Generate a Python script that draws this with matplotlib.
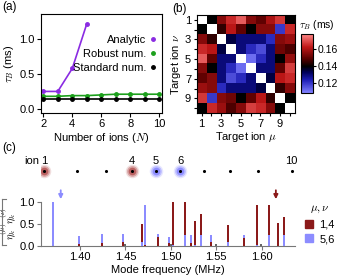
import numpy as np
import matplotlib
matplotlib.use("Agg")
import matplotlib.pyplot as plt
from matplotlib.colors import LinearSegmentedColormap
from matplotlib.patches import Patch
from matplotlib.lines import Line2D

plt.rcParams['font.family'] = ['Liberation Sans', 'DejaVu Sans']
plt.rcParams['mathtext.fontset'] = 'cm'
plt.rcParams['font.size'] = 8
plt.rcParams['axes.linewidth'] = 0.8

# ---- panel (a) data
n_ions = [2, 3, 4, 5, 6, 7, 8, 9, 10]
analytic_n = [2, 3, 4, 5]
analytic = [0.25, 0.25, 0.58, 1.22]
robust = [0.18, 0.18, 0.19, 0.19, 0.20, 0.21, 0.21, 0.21, 0.21]
standard = [0.14, 0.14, 0.14, 0.14, 0.14, 0.14, 0.14, 0.14, 0.14]

# ---- panel (b) data: tau_B (ms) for target pair (nu row, mu col)
tau = np.array([
    [np.nan, 0.140, 0.155, 0.165, 0.172, 0.155, 0.150, 0.160, 0.167, 0.140],
    [0.140, np.nan, 0.145, 0.162, 0.150, 0.140, 0.155, 0.155, 0.120, 0.165],
    [0.155, 0.145, np.nan, 0.135, 0.130, 0.130, 0.130, 0.122, 0.155, 0.158],
    [0.165, 0.162, 0.135, np.nan, 0.130, 0.122, 0.117, 0.130, 0.152, 0.148],
    [0.172, 0.150, 0.130, 0.130, np.nan, 0.112, 0.122, 0.130, 0.140, 0.157],
    [0.155, 0.140, 0.130, 0.122, 0.112, np.nan, 0.130, 0.130, 0.150, 0.168],
    [0.150, 0.155, 0.130, 0.117, 0.122, 0.130, np.nan, 0.135, 0.162, 0.165],
    [0.158, 0.155, 0.122, 0.130, 0.130, 0.130, 0.135, np.nan, 0.145, 0.155],
    [0.167, 0.120, 0.155, 0.152, 0.140, 0.150, 0.162, 0.145, np.nan, 0.140],
    [0.140, 0.165, 0.158, 0.148, 0.155, 0.168, 0.165, 0.155, 0.140, np.nan],
])

# ---- panel (c) data
freqs = [1.3706, 1.3986, 1.4242, 1.4470, 1.4679, 1.4712, 1.4862, 1.4976,
         1.5020, 1.5156, 1.5219, 1.5263, 1.5335, 1.5439, 1.5629, 1.5805,
         1.5952, 1.6080, 1.6176, 1.6245]
eta_14 = [0.00, 0.05, 0.07, 0.10, 0.50, 0.02, 0.21, 0.06, 0.99, 0.99,
          0.06, 0.56, 0.72, 0.10, 0.47, 0.19, 0.94, 0.94, 0.52, 0.66]
eta_56 = [1.00, 0.23, 0.27, 0.28, 0.10, 0.93, 0.28, 0.21, 0.03, 0.26,
          0.25, 0.03, 0.26, 0.25, 0.08, 0.26, 0.02, 0.26, 0.00, 0.24]
other_f = [1.4492, 1.4998, 1.5497, 1.5989]
other_eta = [0.04, 0.04, 0.05, 0.04]
arrow_f_56 = 1.3788
arrow_f_14 = 1.6157

ion_pos = [-124, -90.5, -62, -36.2, -12.3, 12.3, 36.2, 62, 90.5, 124]
ion_glow = {1: '#a02020', 4: '#a02020', 5: '#6060ff', 6: '#6060ff'}

c_red = '#8b1a1a'
c_blue = '#8c8cff'

fig = plt.figure(figsize=(3.39, 2.77), dpi=100)

# ---------------- (a)
ax = fig.add_axes([0.120, 0.592, 0.357, 0.357])
ax.plot(analytic_n, analytic, '-o', color='#8a2be2', ms=2.5, lw=1.2, label='Analytic')
ax.plot(n_ions, robust, '-o', color='#1ca01c', ms=2.5, lw=1.2, label='Robust num.')
ax.plot(n_ions, standard, '-o', color='black', ms=2.5, lw=1.2, label='Standard num.')
ax.set_xlim(1.82, 10.17)
ax.set_ylim(-0.06, 1.36)
ax.set_xticks([2, 4, 6, 8, 10])
ax.set_yticks([0.0, 0.5, 1.0])
ax.tick_params(length=3, pad=1.5)
ax.set_xlabel('Number of ions ($N$)', labelpad=1)
ax.set_ylabel(r'$\tau_B$ (ms)', labelpad=2)
ax.legend(loc='center right', bbox_to_anchor=(1.02, 0.6), frameon=False, markerfirst=False,
          handlelength=0.6, handletextpad=0.3, labelspacing=0.35, borderpad=0.2)
for h in ax.get_legend().legend_handles:
    h.set_linestyle('none')
fig.text(0.006, 0.965, '(a)', fontsize=8.5)

# ---------------- (b)
cmap = LinearSegmentedColormap.from_list('rb', [(0, '#8080ff'), (0.22, '#1c1cb4'),
                                              (0.35, '#000058'), (0.45, '#000000'),
                                              (0.58, '#580000'), (0.78, '#c01818'),
                                              (1, '#ff8888')])
cmap.set_bad('white')
axb = fig.add_axes([0.580, 0.592, 0.289, 0.354])
im = axb.imshow(np.ma.masked_invalid(tau), cmap=cmap, vmin=0.109, vmax=0.178,
                extent=[0.5, 10.5, 10.5, 0.5], aspect='auto')
axb.set_xticks(range(1, 11))
axb.set_xticklabels(['1', '', '3', '', '5', '', '7', '', '9', ''])
axb.set_yticks(range(1, 11))
axb.set_yticklabels(['1', '', '3', '', '5', '', '7', '', '9', ''])
axb.tick_params(length=2.5, pad=1.5)
axb.set_xlabel(r'Target ion $\mu$', labelpad=1)
axb.set_ylabel(r'Target ion $\nu$', labelpad=1)
fig.text(0.508, 0.958, '(b)', fontsize=8.5)

cax = fig.add_axes([0.888, 0.665, 0.034, 0.212])
cb = fig.colorbar(im, cax=cax, ticks=[0.12, 0.14, 0.16])
cb.ax.tick_params(length=2.5, pad=1, labelsize=7.5)
cb.outline.set_linewidth(0.8)
fig.text(0.883, 0.9, r'$\tau_B$ (ms)', fontsize=7.5)

# ---------------- (c) ion chain
axi = fig.add_axes([0.120, 0.33, 0.750, 0.12])
axi.set_xlim(-127.3, 127.3)
axi.set_ylim(-1, 1)
axi.axis('off')
for i, x in enumerate(ion_pos, start=1):
    if i in ion_glow:
        for s, a in [(95, 0.15), (60, 0.3), (30, 0.5)]:
            axi.scatter(x, -0.15, s=s, color=ion_glow[i], alpha=a, lw=0)
    axi.scatter(x, -0.15, s=5, color='black', lw=0, zorder=5)
for i in [1, 4, 5, 6, 10]:
    axi.text(ion_pos[i - 1], 0.45, str(i), ha='center', va='center', fontsize=8)
axi.text(ion_pos[0] - 4.5, 0.45, 'ion', ha='right', va='center', fontsize=8)
fig.text(0.006, 0.455, '(c)', fontsize=8.5)

# ---------------- (c) spectrum
axc = fig.add_axes([0.120, 0.112, 0.750, 0.162])
w = 0.0022
for f, r, b in zip(freqs, eta_14, eta_56):
    zr, zb = (2, 3) if r >= b else (3, 2)
    axc.bar(f, r, width=w, color=c_red, zorder=zr, lw=0)
    axc.bar(f, b, width=w, color=c_blue, zorder=zb, lw=0)
axc.bar(other_f, other_eta, width=w, color='#666666', lw=0, zorder=2)
axc.annotate('', xy=(arrow_f_56, 1.0), xytext=(arrow_f_56, 1.33),
             xycoords='data', annotation_clip=False,
             arrowprops=dict(arrowstyle='-|>', color=c_blue, lw=1.3, mutation_scale=6))
axc.annotate('', xy=(arrow_f_14, 1.0), xytext=(arrow_f_14, 1.33),
             xycoords='data', annotation_clip=False,
             arrowprops=dict(arrowstyle='-|>', color=c_red, lw=1.3, mutation_scale=6))
axc.set_xlim(1.3567, 1.6367)
axc.set_ylim(0, 1.02)
axc.set_xticks([1.40, 1.45, 1.50, 1.55, 1.60])
axc.set_xticklabels(['1.40', '1.45', '1.50', '1.55', '1.60'])
axc.set_yticks([0.0, 0.5, 1.0])
axc.spines['top'].set_visible(False)
axc.spines['right'].set_visible(False)
axc.spines['left'].set_bounds(0, 1)
axc.spines['left'].set_color('#777777')
axc.spines['bottom'].set_color('#777777')
axc.tick_params(length=3, pad=1.5, color='#777777')
axc.set_xlabel('Mode frequency (MHz)', labelpad=2)
axc.set_ylabel(r'$\eta_k^{(\mu)}\eta_k^{(\nu)}$', fontsize=7.5)
axc.yaxis.set_label_coords(-0.088, 0.5)
leg = axc.legend(handles=[Patch(color=c_red, label='1,4'), Patch(color=c_blue, label='5,6')],
                 title=r'$\mu,\nu$', loc='upper left', bbox_to_anchor=(1.0, 1.18),
                 frameon=False, handlelength=0.7, handleheight=0.7, handletextpad=0.6,
                 labelspacing=0.4)
leg.get_title().set_fontsize(8)

# bracket next to the ylabel of (c)
fig.add_artist(Line2D([0.005, 0.005], [0.115, 0.282], color='#777777', lw=0.8))
fig.add_artist(Line2D([0.005, 0.017], [0.282, 0.282], color='#777777', lw=0.8))
fig.add_artist(Line2D([0.005, 0.017], [0.115, 0.115], color='#777777', lw=0.8))

fig.savefig('out.png', dpi=100)
